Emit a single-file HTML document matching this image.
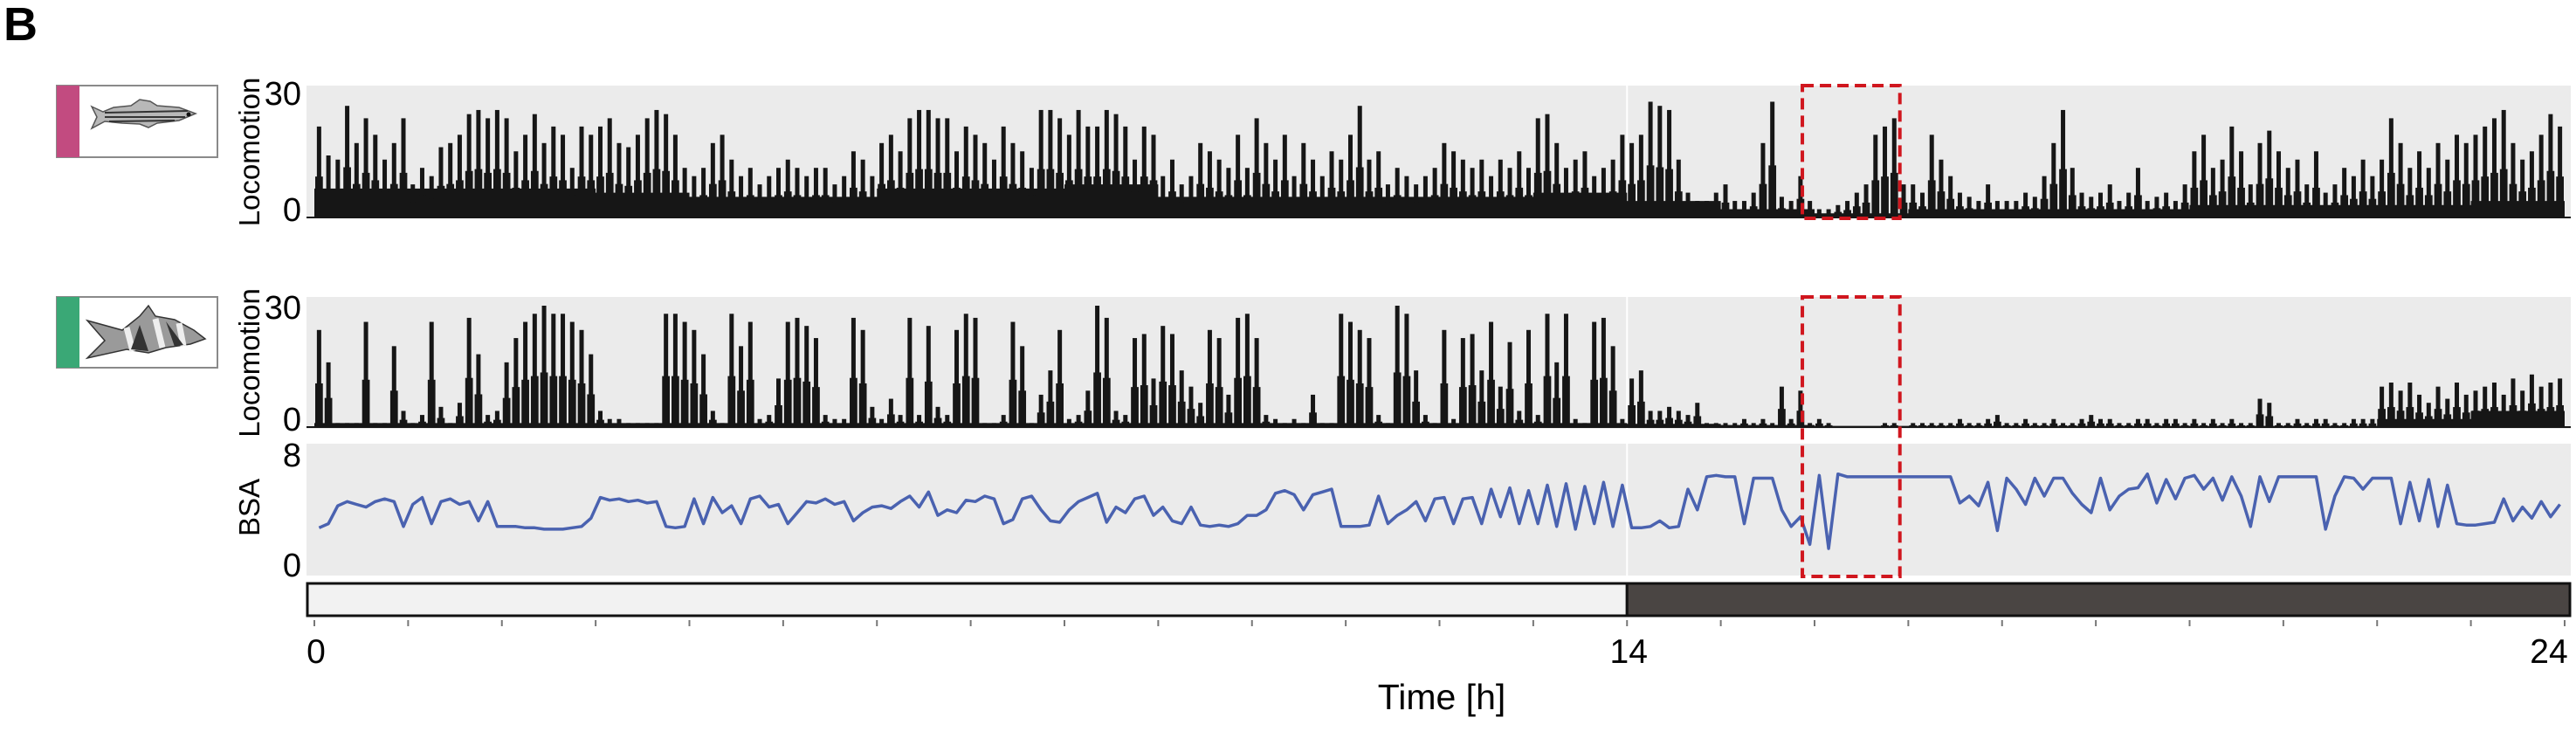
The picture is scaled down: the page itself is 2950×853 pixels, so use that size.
<!DOCTYPE html>
<html><head><meta charset="utf-8"><style>
html,body{margin:0;padding:0;background:#fff;}
svg{display:block;font-family:"Liberation Sans",sans-serif;}
</style></head><body>
<svg id="chart" width="2950" height="853" viewBox="0 0 2950 853">
<text x="4" y="46" font-size="54" font-weight="bold">B</text>
<g>
<rect x="65" y="98" width="184" height="82" fill="#fff" stroke="#8a8a8a" stroke-width="2"/>
<rect x="65" y="98" width="26" height="82" fill="#c24b80"/>
<path d="M105 122 L118 128 L130 123 L150 121 L160 114 L172 116 L180 121 L205 123 L224 130 L205 138 L180 141 L170 146 L160 142 L140 141 L120 139 L105 147 L111 134 Z" fill="#b8b8b8" stroke="#555" stroke-width="1.5"/>
<path d="M120 129 L215 127 M120 134 L212 134 M125 139 L200 138" stroke="#333" stroke-width="2" fill="none"/>
<circle cx="216" cy="131" r="2.5" fill="#111"/>
</g>
<g>
<rect x="65" y="340" width="184" height="81" fill="#fff" stroke="#8a8a8a" stroke-width="2"/>
<rect x="65" y="340" width="26" height="81" fill="#3aa876"/>
<path d="M100 367 L140 378 L160 362 L170 350 L178 362 L200 366 L222 378 L235 388 L218 394 L190 398 L170 404 L145 400 L100 410 L120 390 Z" fill="#9a9a9a" stroke="#333" stroke-width="1.5"/>
<path d="M145 375 L152 402 M178 365 L186 398 M205 370 L210 396" stroke="#eee" stroke-width="7" fill="none"/>
<path d="M160 372 L150 400 L170 402 Z M190 368 L200 397 L210 395 Z" fill="#333"/>
</g>
<g id="plots"></g>
</svg>
<script>
// ---- data (6-minute bins, 10 per hour, 24 h) ----
const hourTicks = [0,14,24];
const zebraPeaks = [
22,15,14,27,18,24,20,14,18,24, 8,12,10,17,18,20,25,26,24,26, 24,16,20,25,18,22,20,12,22,20,
22,24,18,17,20,24,26,25,20,12, 10,12,18,20,14,10,12,8,10,12, 14,12,10,12,12,8,10,16,14,10,
18,20,16,24,26,26,24,24,16,22, 20,18,14,22,18,16,12,26,26,24, 20,26,22,22,26,25,22,14,22,20,
10,14,8,10,18,16,14,12,20,12, 24,18,14,20,10,18,14,10,16,14, 20,27,14,16,8,12,10,8,10,12,
18,16,14,12,14,10,14,12,16,12, 24,25,18,12,14,16,10,12,14,20, 18,20,28,27,26,14,6,4,4,6,
8,4,4,6,18,28,5,4,10,4, 2,2,3,4,6,8,20,22,24,8, 8,6,20,14,10,6,5,4,8,4,
4,4,6,5,10,18,26,12,6,5, 6,8,4,6,12,4,5,6,4,8, 16,20,12,14,22,16,8,18,21,16,
12,14,8,16,6,8,12,10,14,10, 14,24,18,12,16,12,18,14,20,18, 20,22,24,26,18,14,16,20,25,22];
const zebraBase = [7,7,7,6,5,5,7,7,8,5,5,5,5,6, 4,2,1,2,2,2,3,3,3,4];
const loachPeaks = [
24,16,1,1,1,26,1,1,20,4, 1,3,26,5,1,6,27,18,3,4, 16,22,26,28,30,28,28,26,24,18,
4,2,2,1,1,1,1,28,28,26, 24,18,4,1,28,20,26,2,3,12, 26,27,25,22,3,2,2,27,24,5,
2,7,3,27,3,25,5,3,24,28, 27,1,1,3,26,20,1,8,14,24, 2,3,9,30,27,4,3,22,23,12,
25,23,14,10,6,24,22,8,27,28, 22,3,2,1,2,1,8,1,1,28, 26,24,22,3,1,30,28,14,3,1,
24,2,22,23,14,26,10,21,4,24, 3,28,16,28,2,1,26,27,20,2, 12,14,4,4,5,4,3,6,1,1,
1,1,2,1,2,1,10,2,9,1, 2,1,0,0,0,0,0,1,1,0, 1,1,1,1,1,2,1,1,2,3,
1,1,2,1,1,2,1,1,2,3, 2,2,1,1,2,2,1,2,2,1, 2,1,2,1,2,1,1,7,6,1,
1,2,1,2,2,1,1,2,2,2, 10,11,9,11,8,6,10,7,11,8, 9,10,11,8,12,9,13,10,11,12];
const loachBase = [1,1,1,1,1,1,1,1,1,1,1,1,1,1, 0.8,0.5,0.3,0.3,0.3,0.3,0.3,0.3,2,4];
const bsaValues = [
2.7,3.0,4.3,4.6,4.4,4.2,4.6,4.8,4.6,2.8, 4.4,4.9,3.0,4.6,4.8,4.4,4.6,3.2,4.6,2.8,
2.8,2.8,2.7,2.7,2.6,2.6,2.6,2.7,2.8,3.4, 4.9,4.7,4.8,4.6,4.7,4.5,4.6,2.8,2.7,2.8,
4.8,3.0,4.9,3.8,4.3,3.0,4.8,5.0,4.2,4.4, 3.0,3.8,4.6,4.5,4.8,4.4,4.6,3.2,3.8,4.2,
4.3,4.1,4.6,5.0,4.2,5.3,3.6,4.0,3.8,4.7, 4.6,5.0,4.8,3.0,3.3,4.8,5.0,4.0,3.2,3.1,
4.0,4.6,4.9,5.2,3.1,4.2,3.8,4.8,5.0,3.6, 4.2,3.2,3.0,4.2,2.9,2.8,2.9,2.8,3.0,3.6,
3.6,4.0,5.2,5.4,5.1,4.0,5.1,5.3,5.5,2.8, 2.8,2.8,2.9,5.0,3.0,3.6,4.0,4.6,3.2,4.8,
4.9,3.0,4.8,4.9,3.0,5.5,3.5,5.6,3.0,5.4, 3.0,5.8,2.8,5.9,2.6,5.7,3.0,6.0,2.8,5.8,
2.7,2.7,2.8,3.2,2.7,2.8,5.5,4.0,6.4,6.5, 6.4,6.4,3.0,6.3,6.3,6.3,4.0,2.8,3.5,1.5,
6.5,1.2,6.6,6.4,6.4,6.4,6.4,6.4,6.4,6.4, 6.4,6.4,6.4,6.4,6.4,4.5,5.0,4.3,6.0,2.5,
6.3,5.5,4.4,6.3,5.0,6.3,6.3,5.2,4.4,3.8, 6.3,4.0,5.0,5.5,5.6,6.6,4.5,6.2,4.8,6.3,
6.5,5.5,6.3,4.7,6.4,5.0,2.8,6.4,4.6,6.4, 6.4,6.4,6.4,6.4,2.6,5.0,6.4,6.3,5.5,6.3,
6.3,6.3,3.0,6.0,3.2,6.2,2.8,5.8,3.0,2.9, 2.9,3.0,3.1,4.8,3.2,4.2,3.4,4.6,3.5,4.4];
const lightDark = [[0,14,'#f2f2f2'],[14,24,'#4a4543']];
const highlight = [15.87, 16.91];

// ---- scales ----
const X0 = 360, X1 = 2937;
function xs(h){ return X0 + h*(X1-X0)/24; }
const NS = 'http://www.w3.org/2000/svg';
const root = document.getElementById('plots');
function mk(tag, attrs, parent){
  const e = document.createElementNS(NS, tag);
  for (const k in attrs) e.setAttribute(k, attrs[k]);
  (parent||root).appendChild(e); return e;
}
function locoScale(base, top){ return v => base - v*(base-top)/30; }

const panels = [
  {name:'zebrafish', top:98, bot:250, y0:249, y30:107, peaks:zebraPeaks, base:zebraBase, l30:107, l0:240},
  {name:'loach', top:340, bot:491, y0:489, y30:350, peaks:loachPeaks, base:loachBase, l30:352, l0:480}
];
panels.forEach(p=>{
  const g = mk('g',{});
  
  
  const bg = mk('rect',{x:351,y:p.top,width:2593,height:p.bot-p.top,fill:'#ebebeb'},g);
  
  
  mk('line',{x1:xs(14),x2:xs(14),y1:p.top,y2:p.bot,stroke:'#fff','stroke-width':2},g);
  const ys = locoScale(p.y0, p.y30);
  const n = p.peaks.length, w = (X1-X0)/n;
  let d = 'M'+xs(0)+' '+p.y0;
  p.base.forEach((b,i)=>{ d += ' L'+xs(i)+' '+ys(b)+' L'+xs(i+1)+' '+ys(b); });
  d += ' L'+xs(24)+' '+p.y0+' Z';
  const area = mk('path',{d:d,fill:'#161616'},g);
  
  
  p.peaks.forEach((v,i)=>{
    const x = X0 + (i+0.5)*w;
    const b = mk('rect',{x:x-2.5,y:ys(v),width:5,height:p.y0-ys(v),fill:'#161616'},g);
    
    
    const b2 = mk('rect',{x:x-w/2+1,y:ys(v*0.45),width:w-2,height:p.y0-ys(v*0.45),fill:'#161616'},g);
    
    
  });
  mk('line',{x1:351,x2:2944,y1:p.y0,y2:p.y0,stroke:'#161616','stroke-width':2},g);
  const t1 = mk('text',{x:345,y:p.l30+13,'font-size':38,'text-anchor':'end'},g); t1.textContent='30';
   
  const t0 = mk('text',{x:345,y:p.l0+13,'font-size':38,'text-anchor':'end'},g); t0.textContent='0';
   
  const cy = (p.top+p.bot)/2;
  const yl = mk('text',{x:0,y:0,'font-size':33,'text-anchor':'middle',transform:'translate(297,'+cy+') rotate(-90)'},g);
  yl.textContent='Locomotion';
   
});

// BSA panel
(function(){
  const g = mk('g',{});
  
  
  const bg = mk('rect',{x:351,y:508,width:2593,height:151,fill:'#ebebeb'},g);
  
  
  mk('line',{x1:xs(14),x2:xs(14),y1:508,y2:659,stroke:'#fff','stroke-width':2},g);
  const ys = v => 647 - v*15.8;
  const n = bsaValues.length, w = (X1-X0)/n;
  let pts = bsaValues.map((v,i)=> (X0+(i+0.5)*w).toFixed(1)+','+ys(v).toFixed(1)).join(' ');
  const line = mk('polyline',{points:pts,fill:'none',stroke:'#4a62b0','stroke-width':3.5,'stroke-linejoin':'round'},g);
  
  
  const t8 = mk('text',{x:345,y:534,'font-size':38,'text-anchor':'end'},g); t8.textContent='8';
   
  const t0 = mk('text',{x:345,y:660,'font-size':38,'text-anchor':'end'},g); t0.textContent='0';
   
  const yl = mk('text',{x:0,y:0,'font-size':33,'text-anchor':'middle',transform:'translate(297,581) rotate(-90)'},g);
  yl.textContent='BSA';
   
})();

// light/dark bar + x axis
(function(){
  const g = mk('g',{});
  
  
  lightDark.forEach(s=>{
    const x1 = s[0]===0 ? 352 : xs(s[0]), x2 = s[1]===24 ? 2943 : xs(s[1]);
    const r = mk('rect',{x:x1,y:668,width:x2-x1,height:37,fill:s[2],stroke:'#111','stroke-width':3},g);
    
    
  });
  for(let h=0;h<=24;h++){
    const t = mk('line',{x1:xs(h),x2:xs(h),y1:710,y2:717,stroke:'#777','stroke-width':2},g);
    
    
  }
  hourTicks.forEach(h=>{
    const t = mk('text',{x:xs(h)+(h===24?-18:2),y:759,'font-size':39,'text-anchor':'middle'},g);
    t.textContent = String(h);
    
    
  });
  const xt = mk('text',{x:1651,y:812,'font-size':41,'text-anchor':'middle'},g);
  xt.textContent='Time [h]';
  
  
})();

// highlight boxes
[[98,250],[340,660]].forEach((r,i)=>{
  const b = mk('rect',{x:xs(highlight[0]),y:r[0],width:xs(highlight[1])-xs(highlight[0]),height:r[1]-r[0],fill:'none',stroke:'#d0161e','stroke-width':4,'stroke-dasharray':'13 7'});
  
  
});
</script>
</body></html>
